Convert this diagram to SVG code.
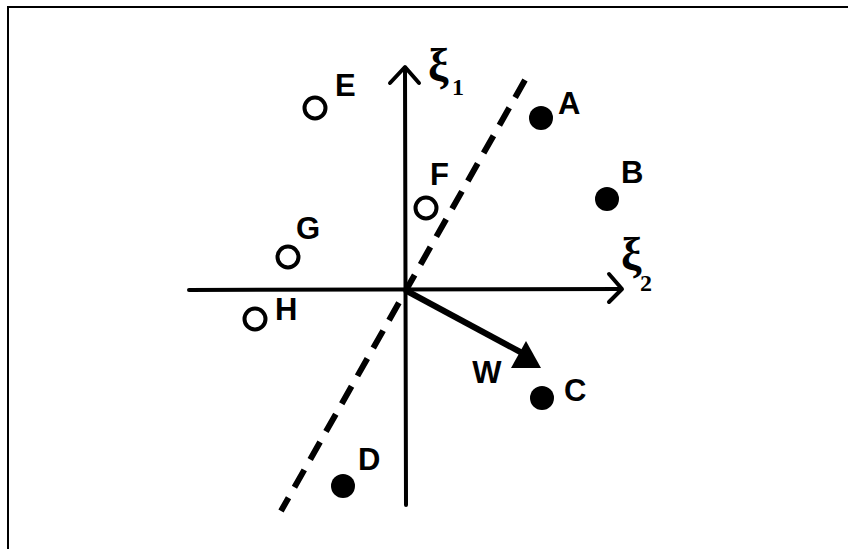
<svg xmlns="http://www.w3.org/2000/svg" width="848" height="549" viewBox="0 0 848 549">
<style>
.lbl{font-family:"Liberation Sans",Arial,sans-serif;font-weight:bold;font-size:31px;fill:#000}
.greek{font-family:"Liberation Serif","DejaVu Serif",serif;font-weight:bold;font-size:46px;fill:#000}
.sub{font-family:"Liberation Serif","DejaVu Serif",serif;font-weight:bold;font-size:24px;fill:#000}
.ax{stroke:#000;stroke-width:4;fill:none;stroke-linecap:round;stroke-linejoin:round}
.open{fill:none;stroke:#000;stroke-width:4}
.solid{fill:#000}
</style>
<rect width="848" height="549" fill="#fff"/>
<path d="M8,549 V7 H848" fill="none" stroke="#000" stroke-width="2"/>
<g id="connectors">
  <g id="axis-xi1">
    <line class="ax" x1="405" y1="68" x2="406" y2="505"/>
    <polyline class="ax" points="390,83 405,67 419,83"/>
  </g>
  <g id="axis-xi2">
    <line class="ax" x1="189" y1="290" x2="621" y2="289"/>
    <polyline class="ax" points="609,274 622,289 609,302"/>
  </g>
  <line id="separator" x1="525" y1="80" x2="281" y2="511" stroke="#000" stroke-width="6" stroke-dasharray="20 12" stroke-linecap="butt"/>
  <g id="vector-w">
    <line x1="405" y1="290" x2="524" y2="354" stroke="#000" stroke-width="6"/>
    <polygon points="511,368 541,368 526,341" fill="#000"/>
  </g>
</g>
<g id="axis-labels">
  <g id="label-xi1"><text class="greek" x="428" y="81">ξ</text><text class="sub" x="452" y="95">1</text></g>
  <g id="label-xi2"><text class="greek" x="621" y="270">ξ</text><text class="sub" x="640" y="291">2</text></g>
  <text id="label-w" class="lbl" x="487" y="383" text-anchor="middle">W</text>
</g>
<g id="node-A"><circle class="solid" cx="541" cy="118" r="12"/><text class="lbl" x="558" y="114">A</text></g>
<g id="node-B"><circle class="solid" cx="607" cy="199" r="12"/><text class="lbl" x="621" y="183">B</text></g>
<g id="node-C"><circle class="solid" cx="542" cy="398" r="12"/><text class="lbl" x="564" y="401">C</text></g>
<g id="node-D"><circle class="solid" cx="343" cy="486" r="12"/><text class="lbl" x="358" y="470">D</text></g>
<g id="node-E"><circle class="open" cx="315" cy="108" r="10.5"/><text class="lbl" x="335" y="96">E</text></g>
<g id="node-F"><circle class="open" cx="426" cy="208" r="10.5"/><text class="lbl" x="430" y="185">F</text></g>
<g id="node-G"><circle class="open" cx="288" cy="257" r="10.5"/><text class="lbl" x="296" y="239">G</text></g>
<g id="node-H"><circle class="open" cx="255" cy="319" r="10.5"/><text class="lbl" x="275" y="320">H</text></g>
</svg>
